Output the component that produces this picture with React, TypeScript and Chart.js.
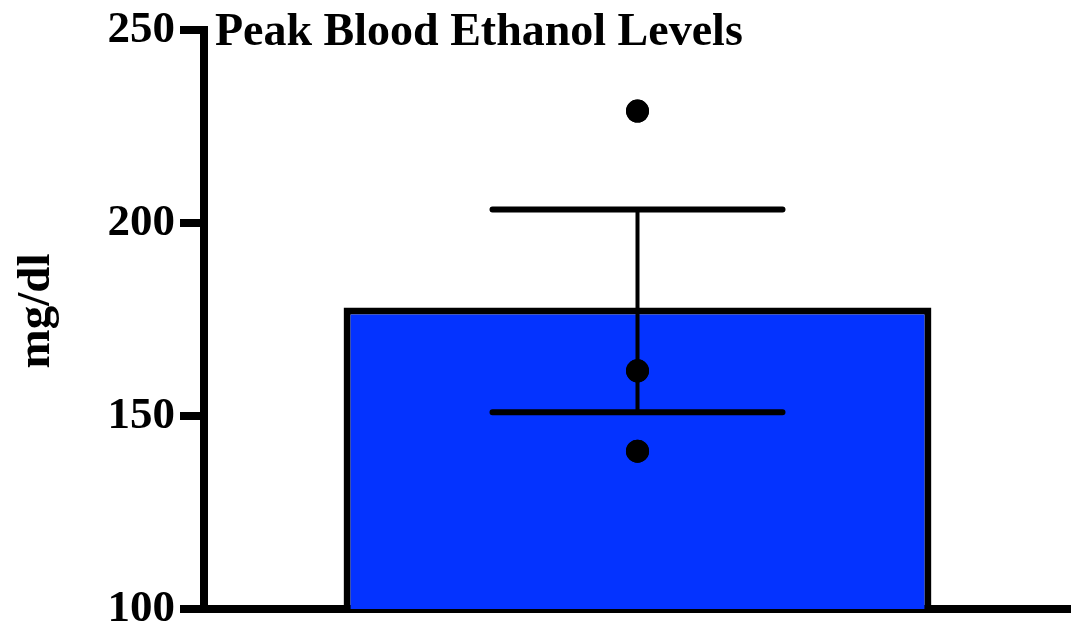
import React, { useEffect, useRef } from "react";
import { Chart, registerables } from "chart.js";

Chart.register(...registerables);

const categories = ["Peak"];
const meanValues = [178.1];
const errorUpper = [203.5];
const errorLower = [151.0];
const pointValues = [229.0, 161.7, 140.9];
const chartTitle = "Peak Blood Ethanol Levels";
const yAxisTitle = "mg/dl";
const yMin = 100;
const yMax = 250;
const yStep = 50;

const FONT = "'Liberation Serif', 'Times New Roman', serif";

export default function App() {
  const ref = useRef<HTMLCanvasElement | null>(null);

  useEffect(() => {
    if (!ref.current) return;

    const errorBarPlugin = {
      id: "errorBars",
      afterDatasetsDraw(chart: any) {
        const { ctx, scales } = chart;
        const y = scales.y;
        const meta = chart.getDatasetMeta(0);
        meanValues.forEach((_m, i) => {
          const bar = meta.data[i];
          const cx = bar.x;
          const hi = y.getPixelForValue(errorUpper[i]);
          const lo = y.getPixelForValue(errorLower[i]);
          const half = 145;
          ctx.save();
          ctx.strokeStyle = "#000";
          ctx.lineCap = "round";
          ctx.lineWidth = 4;
          ctx.beginPath();
          ctx.moveTo(cx, hi);
          ctx.lineTo(cx, lo);
          ctx.stroke();
          ctx.lineWidth = 6;
          ctx.beginPath();
          ctx.moveTo(cx - half, hi);
          ctx.lineTo(cx + half, hi);
          ctx.moveTo(cx - half, lo);
          ctx.lineTo(cx + half, lo);
          ctx.stroke();
          ctx.restore();
        });
        const pmeta = chart.getDatasetMeta(1);
        ctx.save();
        ctx.fillStyle = "#000";
        pmeta.data.forEach((p: any) => {
          ctx.beginPath();
          ctx.arc(p.x, p.y, 11.5, 0, Math.PI * 2);
          ctx.fill();
        });
        ctx.restore();
      },
      afterDraw(chart: any) {
        const { ctx } = chart;
        ctx.save();
        ctx.fillStyle = "#000";
        ctx.font = `bold 46px ${FONT}`;
        ctx.textAlign = "left";
        ctx.textBaseline = "alphabetic";
        ctx.fillText(chartTitle, 215, 45);
        ctx.restore();

        ctx.save();
        ctx.fillStyle = "#000";
        ctx.font = `bold 47px ${FONT}`;
        ctx.translate(37, 311);
        ctx.rotate(-Math.PI / 2);
        ctx.textAlign = "center";
        ctx.textBaseline = "middle";
        ctx.fillText(yAxisTitle, 0, 0);
        ctx.restore();
      },
    };

    const chart = new Chart(ref.current, {
      type: "bar",
      data: {
        labels: categories,
        datasets: [
          {
            type: "bar",
            data: meanValues,
            backgroundColor: "#0433FF",
            borderColor: "#000",
            borderWidth: 7,
            borderSkipped: "start",
            barPercentage: 0.678,
            categoryPercentage: 1,
            order: 2,
          } as any,
          {
            type: "line",
            data: pointValues.map((v) => ({ x: categories[0], y: v })),
            showLine: false,
            pointRadius: 11.5,
            pointBackgroundColor: "#000",
            pointBorderColor: "#000",
            pointBorderWidth: 0,
            order: 1,
          } as any,
        ],
      },
      options: {
        animation: false,
        responsive: false,
        maintainAspectRatio: false,
        layout: { autoPadding: false, padding: { top: 30, right: 0, left: 0, bottom: 0 } },
        plugins: {
          legend: { display: false },
          tooltip: { enabled: false },
          title: { display: false },
        },
        scales: {
          x: {
            type: "category",
            grid: { display: false, drawTicks: false },
            ticks: { display: false },
            border: { display: true, color: "#000", width: 8 },
            afterFit(scale: any) {
              scale.height = 22;
              scale.paddingLeft = 0;
              scale.paddingRight = 0;
              scale.paddingTop = 0;
              scale.paddingBottom = 0;
            },
          },
          y: {
            min: yMin,
            max: yMax,
            ticks: {
              stepSize: yStep,
              color: "#000",
              padding: 5,
              font: { family: FONT, size: 45, weight: "bold" },
            },
            grid: {
              drawOnChartArea: false,
              drawTicks: true,
              tickLength: 24,
              lineWidth: 8,
              color: "#000",
            },
            border: { display: true, color: "#000", width: 8 },
            title: { display: false },
            afterFit(scale: any) {
              scale.width = 204;
              scale.paddingTop = 0;
              scale.paddingBottom = 0;
              scale.paddingLeft = 0;
              scale.paddingRight = 0;
            },
          },
        },
      },
      plugins: [errorBarPlugin],
    } as any);

    return () => chart.destroy();
  }, []);

  return (
    <div style={{ position: "fixed", left: 0, top: 0, width: 1071, height: 631, background: "#fff" }}>
      <canvas ref={ref} width={1071} height={631} style={{ display: "block" }} />
    </div>
  );
}
